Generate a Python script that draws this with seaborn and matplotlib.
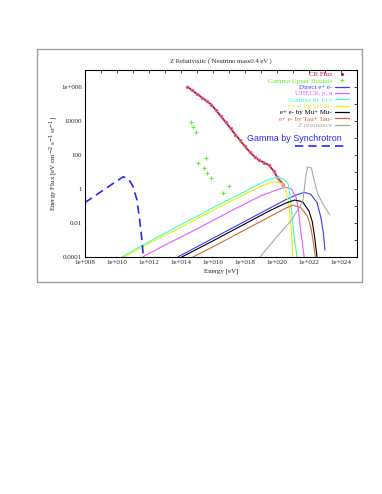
"""
Z-burst spectra (relativistic neutrinos, m_nu = 0.4 eV), gnuplot-like look.
"""

import matplotlib
matplotlib.use("Agg")
import matplotlib.pyplot as plt
import seaborn as sns
import numpy as np
from matplotlib.lines import Line2D
from matplotlib.patches import Rectangle

# --- data, stored as log10(E / eV) and log10(E^2 J) ---
cr_logE = [14.4, 14.7, 15.0, 15.3, 15.6, 15.9, 16.2, 16.5, 16.8, 17.1, 17.4,
           17.7, 18.0, 18.3, 18.6, 18.9, 19.2, 19.5, 19.8, 20.0, 20.2, 20.4]
cr_logF = [6.02, 5.80, 5.60, 5.38, 5.18, 4.96, 4.62, 4.28, 3.92, 3.56, 3.20,
           2.86, 2.50, 2.18, 1.90, 1.68, 1.55, 1.40, 1.05, 0.72, 0.45, 0.25]

gub_logE = [14.61, 14.73, 14.92, 15.08, 15.44, 15.56, 15.61, 15.89, 16.64, 17.02]
gub_logF = [3.92, 3.66, 3.37, 1.55, 1.22, 1.84, 0.92, 0.63, -0.22, 0.18]

direct_logE = [13.8, 15.0, 17.0, 19.0, 20.5, 21.2, 21.7, 22.1, 22.5, 22.75, 22.9, 23.0]
direct_logF = [-4.0, -3.4, -2.4, -1.4, -0.65, -0.35, -0.2, -0.3, -0.8, -1.7, -2.6, -3.6]

uhecr_logE = [11.6, 13.0, 15.0, 17.0, 19.0, 20.0, 20.5, 20.9, 21.2, 21.35, 21.45, 21.6, 21.7]
uhecr_logF = [-4.0, -3.3, -2.35, -1.35, -0.4, -0.05, 0.1, 0.0, -0.5, -1.3, -2.2, -3.3, -4.0]

pi0_logE = [10.3, 12.0, 14.0, 16.0, 18.0, 19.0, 19.6, 20.0, 20.4, 20.7, 20.85, 20.95, 21.1, 21.25]
pi0_logF = [-4.0, -3.1, -2.1, -1.1, -0.15, 0.35, 0.6, 0.68, 0.6, 0.3, -0.6, -1.7, -3.0, -4.0]

pipm_logE = [10.45, 12.0, 14.0, 16.0, 18.0, 19.0, 19.6, 20.0, 20.35, 20.6, 20.75, 20.9, 21.0]
pipm_logF = [-4.0, -3.2, -2.25, -1.25, -0.3, 0.15, 0.38, 0.42, 0.3, -0.2, -1.0, -2.5, -4.0]

mu_logE = [14.05, 16.0, 18.0, 19.5, 20.5, 21.1, 21.6, 22.0, 22.2, 22.35, 22.5]
mu_logF = [-4.0, -3.05, -2.05, -1.3, -0.85, -0.65, -0.75, -1.3, -1.9, -2.8, -4.0]

tau_logE = [14.75, 16.0, 18.0, 19.5, 20.5, 21.0, 21.5, 21.9, 22.1, 22.25, 22.4]
tau_logF = [-4.0, -3.4, -2.4, -1.65, -1.15, -0.95, -1.1, -1.6, -2.2, -3.0, -4.0]

zres_logE = [18.94, 20.0, 20.81, 21.4, 21.63, 21.78, 21.9, 22.15, 22.3, 22.55, 22.9, 23.31]
zres_logF = [-4.0, -2.8, -1.94, -1.1, -0.65, 0.6, 1.29, 1.24, 0.6, -0.3, -0.94, -1.53]

syn_logE = [8.0, 8.5, 9.0, 9.5, 10.0, 10.4, 10.75, 11.0, 11.25, 11.4, 11.5, 11.58, 11.66]
syn_logF = [-0.8, -0.48, -0.16, 0.16, 0.48, 0.72, 0.55, 0.15, -0.65, -1.7, -2.5, -3.2, -4.2]

xtick_exp = [8, 10, 12, 14, 16, 18, 20, 22, 24]
xtick_labels = ["1e+008", "1e+010", "1e+012", "1e+014", "1e+016",
                "1e+018", "1e+020", "1e+022", "1e+024"]
ytick_exp = [-4, -2, 0, 2, 4, 6]
ytick_labels = ["0.0001", "0.01", "1", "100", "10000", "1e+006"]

title = "Z Relativistic ( Neutrino mass0.4 eV )"


def pw(v):
    return np.power(10.0, np.asarray(v, dtype=float))


sns.set_style("white")
plt.rcParams.update({
    "font.family": ["Liberation Serif", "DejaVu Serif"],
    "xtick.direction": "in", "ytick.direction": "in",
    "xtick.top": True, "ytick.right": True,
    "xtick.major.size": 2.5, "ytick.major.size": 2.5,
    "xtick.minor.size": 2.5, "ytick.minor.size": 2.5,
    "xtick.major.width": 0.6, "ytick.major.width": 0.6,
    "xtick.minor.width": 0.6, "ytick.minor.width": 0.6,
    "axes.edgecolor": "black", "axes.linewidth": 0.8,
})

fig = plt.figure(figsize=(3.82, 4.94), dpi=100)
ax = fig.add_axes([0.2225, 0.4798, 0.712, 0.3785])

# outer gray frame
fig.patches.append(Rectangle((0.0969, 0.4291), 0.8508, 0.4717, transform=fig.transFigure,
                             fill=False, edgecolor="#a0a0a0", linewidth=1.0))

series = [
    ("Direct e+ e-", direct_logE, direct_logF, "#3a3aff"),
    ("UHECR, p, n", uhecr_logE, uhecr_logF, "#e060ff"),
    ("Gamma by Pi 0", pi0_logE, pi0_logF, "#40ffc8"),
    ("e+ e- by Pi+ Pi-", pipm_logE, pipm_logF, "#f0f000"),
    ("e+ e- by Mu+ Mu-", mu_logE, mu_logF, "black"),
    ("e+ e- by Tau+ Tau-", tau_logE, tau_logF, "#d06a30"),
    ("Z resonance", zres_logE, zres_logF, "#a8a8a8"),
]

sns.lineplot(x=pw(cr_logE), y=pw(cr_logF), color="#c01838", lw=1.3, marker="o", ms=1.8,
             mec="#e07090", sort=False, estimator=None, ax=ax, legend=False)
sns.scatterplot(x=pw(gub_logE), y=pw(gub_logF), color="#60f030", marker="+", s=12,
                linewidth=0.8, ax=ax, legend=False)
for name, lx, ly, col in series:
    sns.lineplot(x=pw(lx), y=pw(ly), color=col, lw=0.8, sort=False, estimator=None,
                 ax=ax, legend=False)
sns.lineplot(x=pw(syn_logE), y=pw(syn_logF), color="#2828ff", lw=1.2, dashes=False,
             sort=False, estimator=None, ax=ax, legend=False)
ax.lines[-1].set_dashes((5, 3))

ax.set_xscale("log")
ax.set_yscale("log")
ax.set_xlim(1e8, 1e25)
ax.set_ylim(1e-4, 1e7)

ax.xaxis.set_major_locator(matplotlib.ticker.FixedLocator(pw(xtick_exp)))
ax.xaxis.set_major_formatter(matplotlib.ticker.FixedFormatter(xtick_labels))
ax.xaxis.set_minor_locator(matplotlib.ticker.FixedLocator(pw(np.arange(9, 25, 2))))
ax.xaxis.set_minor_formatter(matplotlib.ticker.NullFormatter())
ax.yaxis.set_major_locator(matplotlib.ticker.FixedLocator(pw(ytick_exp)))
ax.yaxis.set_major_formatter(matplotlib.ticker.FixedFormatter(ytick_labels))
ax.yaxis.set_minor_locator(matplotlib.ticker.FixedLocator(pw(np.arange(-3, 7, 2))))
ax.yaxis.set_minor_formatter(matplotlib.ticker.NullFormatter())
ax.tick_params(labelsize=5, pad=2)

ax.set_xlabel("Energy [eV]", fontsize=5, labelpad=3)
ax.set_ylabel("Energy Flux [eV cm$^{-2}$ s$^{-1}$ sr$^{-1}$]", fontsize=5, labelpad=1)
ax.set_title(title, fontsize=4.8, pad=5)

# gnuplot-style key: text right-aligned, sample on the right
handles = [Line2D([], [], color="#c01838", marker="o", ms=1.2, lw=0),
           Line2D([], [], color="#60f030", marker="+", ms=3, lw=0, mew=0.8)]
labels = ["CR Flux", "Gamma Upper Bounds"]
colors = ["#c01838", "#60f030"]
for name, lx, ly, col in series:
    handles.append(Line2D([], [], color=col, lw=0.9))
    labels.append(name)
    colors.append(col)
leg = ax.legend(handles, labels, loc="upper right", bbox_to_anchor=(0.975, 1.0),
                frameon=False, markerfirst=False, fontsize=5, handlelength=2.0,
                handletextpad=0.4, labelspacing=0.07, borderpad=0.2, borderaxespad=0)
for txt, col in zip(leg.get_texts(), colors):
    txt.set_color(col)

ax.text(0.596, 0.631, "Gamma by Synchrotron", transform=ax.transAxes, color="#2828ff",
        fontsize=6.4, family=["Liberation Sans", "DejaVu Sans"], va="center", ha="left")
ax.plot([0.772, 0.963], [0.594, 0.594], transform=ax.transAxes, color="#2828ff",
        lw=1.2, dashes=(5, 3))

fig.savefig("out.png", dpi=100)
